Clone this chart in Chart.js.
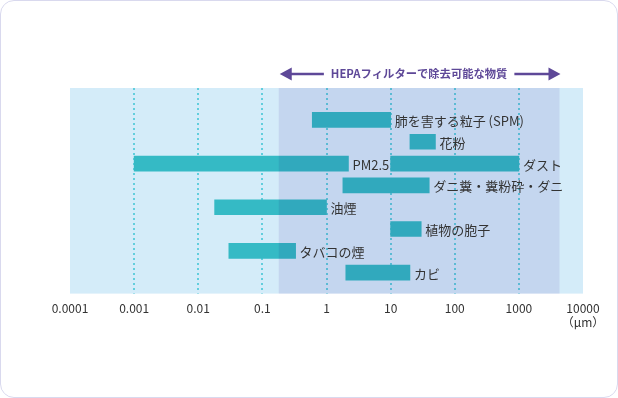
<!DOCTYPE html>
<html><head><meta charset="utf-8">
<script src="https://cdn.jsdelivr.net/npm/chart.js@4.4.1/dist/chart.umd.min.js"></script>
<style>
html,body{margin:0;padding:0;background:#fff;}
#wrap{position:relative;width:618px;height:398px;}
#frame{position:absolute;left:0;top:0;width:618px;height:398px;box-sizing:border-box;border:1px solid #d9d9ee;border-radius:14px;pointer-events:none;}
canvas{display:block;}
</style></head><body>
<div id="wrap"><canvas id="c" width="618" height="398"></canvas><div id="frame"></div></div>
<script>
// ---- data ----
const categories = ['肺を害する粒子 (SPM)','花粉','PM2.5','ダニ糞・糞粉砕・ダニ','油煙','植物の胞子','タバコの煙','カビ'];
const sizeMin = [0.6, 20, 0.001, 1.8, 0.018, 10, 0.03, 2];
const sizeMax = [10, 50, 2.2, 40, 1, 30, 0.33, 20];
const extraRow = 'PM2.5';
const extraLabel = 'ダスト';
const extraMin = 10;
const extraMax = 1000;
const tickValues = [0.0001, 0.001, 0.01, 0.1, 1, 10, 100, 1000, 10000];
const tickLabels = ['0.0001','0.001','0.01','0.1','1','10','100','1000','10000'];
const hepaRange = [0.18, 4300];
const titleText = 'HEPAフィルターで除去可能な物質';
const unitText = '（μm）';

// ---- style ----
const FONT = '"Noto Sans CJK JP","Noto Sans",sans-serif';
const LIGHT = '#d4ecf9';
const HEPA_MULT = 'rgb(236,232,245)';
const BAR = '#35bac5';
const GRID = '#3cc3d3';
const PURPLE = '#5e4898';
const TEXT = '#333333';

const mainData = categories.map((c, i) => [sizeMin[i], sizeMax[i]]);
const extraData = categories.map(c => c === extraRow ? [extraMin, extraMax] : null);

const bgPlugin = {
  id: 'bgPlugin',
  beforeDatasetsDraw(chart) {
    const { ctx, chartArea: a, scales: { x } } = chart;
    const top = a.top - 21, bottom = a.bottom + 10;
    const l = x.getPixelForValue(tickValues[0]);
    const r = x.getPixelForValue(tickValues[tickValues.length - 1]);
    ctx.save();
    ctx.fillStyle = LIGHT;
    ctx.fillRect(l, top, r - l, bottom - top);
    ctx.strokeStyle = GRID;
    ctx.lineWidth = 1.5;
    ctx.setLineDash([2, 3]);
    tickValues.slice(1, -1).forEach(v => {
      const px = Math.round(x.getPixelForValue(v));
      ctx.beginPath();
      ctx.moveTo(px, top);
      ctx.lineTo(px, bottom);
      ctx.stroke();
    });
    ctx.restore();
  },
  afterDatasetsDraw(chart) {
    const { ctx, chartArea: a, scales: { x } } = chart;
    const top = a.top - 21, bottom = a.bottom + 10;
    const hl = x.getPixelForValue(hepaRange[0]);
    const hr = x.getPixelForValue(hepaRange[1]);
    ctx.save();
    ctx.globalCompositeOperation = 'multiply';
    ctx.fillStyle = HEPA_MULT;
    ctx.fillRect(hl, top, hr - hl, bottom - top);
    ctx.globalCompositeOperation = 'source-over';

    ctx.font = '13px ' + FONT;
    ctx.fillStyle = TEXT;
    ctx.textBaseline = 'middle';
    ctx.textAlign = 'left';
    chart.data.datasets.forEach((ds, di) => {
      const meta = chart.getDatasetMeta(di);
      ds.data.forEach((d, i) => {
        if (!d) return;
        const el = meta.data[i];
        const endPx = x.getPixelForValue(Math.max(d[0], d[1]));
        const txt = di === 0 ? categories[i] : extraLabel;
        ctx.fillText(txt, endPx + 4, el.y + 1);
      });
    });

    const ty = top - 14;
    const cx = (hl + hr) / 2;
    ctx.font = 'bold 11.3px ' + FONT;
    ctx.fillStyle = PURPLE;
    ctx.textAlign = 'center';
    ctx.fillText(titleText, cx, ty);
    const tw = ctx.measureText(titleText).width;
    const tl = cx - tw / 2 - 7, tr = cx + tw / 2 + 7;
    const aL = hl + 1, aR = hr + 1;
    ctx.strokeStyle = PURPLE;
    ctx.lineWidth = 2.5;
    ctx.beginPath();
    ctx.moveTo(aL + 8, ty); ctx.lineTo(tl, ty);
    ctx.moveTo(tr, ty); ctx.lineTo(aR - 8, ty);
    ctx.stroke();
    ctx.beginPath();
    ctx.moveTo(aL, ty); ctx.lineTo(aL + 12, ty - 6.5); ctx.lineTo(aL + 12, ty + 6.5); ctx.closePath();
    ctx.moveTo(aR, ty); ctx.lineTo(aR - 12, ty - 6.5); ctx.lineTo(aR - 12, ty + 6.5); ctx.closePath();
    ctx.fill();

    ctx.font = '12px ' + FONT;
    ctx.fillStyle = TEXT;
    ctx.textAlign = 'center';
    ctx.fillText(unitText, x.getPixelForValue(tickValues[tickValues.length - 1]), bottom + 29);
    ctx.restore();
  }
};

new Chart(document.getElementById('c'), {
  type: 'bar',
  data: {
    labels: categories,
    datasets: [
      { label: '粒子径', data: mainData, backgroundColor: BAR, barThickness: 15, grouped: false, borderWidth: 0, borderSkipped: false },
      { label: extraLabel, data: extraData, backgroundColor: BAR, barThickness: 15, grouped: false, borderWidth: 0, borderSkipped: false }
    ]
  },
  options: {
    indexAxis: 'y',
    responsive: false,
    animation: false,
    devicePixelRatio: 1,
    layout: { padding: { left: 70, right: 35, top: 109, bottom: 72 } },
    plugins: { legend: { display: false }, tooltip: { enabled: false } },
    scales: {
      x: {
        type: 'logarithmic', min: tickValues[0], max: tickValues[tickValues.length - 1],
        grid: { display: false }, border: { display: false },
        afterBuildTicks: s => { s.ticks = tickValues.map(v => ({ value: v })); },
        ticks: {
          autoSkip: false, maxRotation: 0, padding: 10, color: TEXT,
          font: { family: FONT, size: 12 },
          callback: (v, i) => tickLabels[i]
        }
      },
      y: { display: false, offset: true }
    }
  },
  plugins: [bgPlugin]
});
</script>
</body></html>
